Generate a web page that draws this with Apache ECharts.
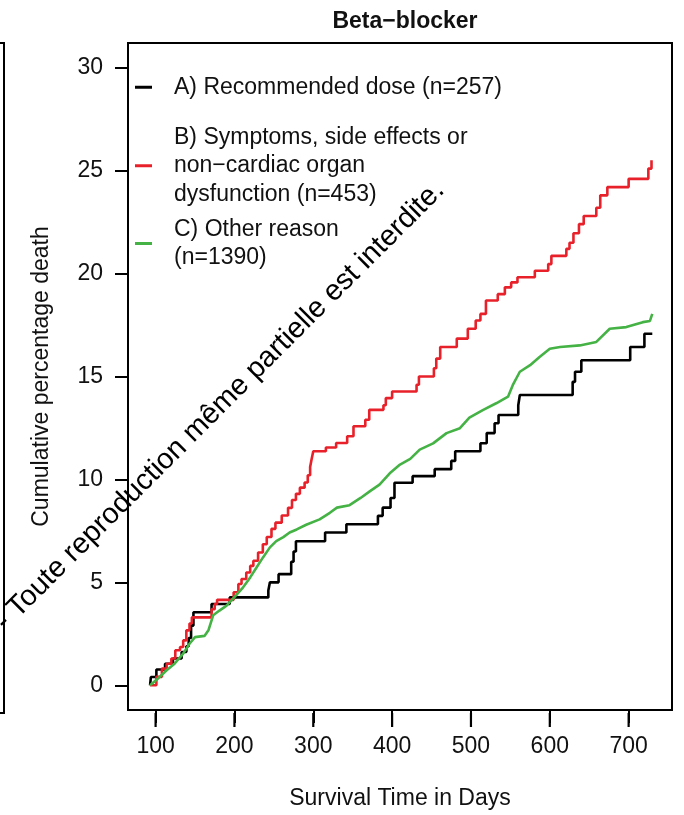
<!DOCTYPE html>
<html>
<head>
<meta charset="utf-8">
<script src="https://cdn.jsdelivr.net/npm/echarts@6/dist/echarts.min.js"></script>
<style>
  html, body { margin: 0; padding: 0; background: #fff; }
  #main { width: 684px; height: 815px; }
</style>
</head>
<body>
<div id="main"></div>
<script>
// data (days, cumulative % death)
var xTicks = [100, 200, 300, 400, 500, 600, 700];
var yTicks = [0, 5, 10, 15, 20, 25, 30];

var seriesNames = ['A', 'B', 'C'];
var legendTexts = [
    'A) Recommended dose (n=257)',
    'B) Symptoms, side effects or\nnon\u2212cardiac organ\ndysfunction (n=453)',
    'C) Other reason\n(n=1390)'
];

var blackDays = [93, 94, 101, 112, 122, 133, 139, 142, 145, 148, 171, 194, 243, 245, 256, 272, 275, 278, 315, 342, 382, 388, 398, 403, 426, 454, 475, 480, 512, 520, 530, 535, 560, 562, 629, 632, 640, 702, 720, 730];
var blackPct  = [0, 0.4, 0.77, 1.05, 1.3, 1.62, 1.9, 2.3, 2.9, 3.55, 3.95, 4.27, 4.6, 5.0, 5.4, 6.0, 6.5, 7.0, 7.42, 7.82, 8.23, 8.63, 9.1, 9.84, 10.16, 10.5, 10.9, 11.37, 11.76, 12.25, 12.73, 13.13, 13.6, 14.1, 14.74, 15.23, 15.79, 16.43, 17.08, 17.08];

var redDays = [93, 101, 108, 114, 120, 125, 131, 135, 139, 143, 146, 171, 175, 178, 199, 205, 209, 215, 220, 224, 230, 236, 241, 247, 252, 260, 268, 273, 278, 283, 289, 293, 296, 298, 300, 316, 329, 343, 351, 366, 371, 389, 392, 400, 431, 434, 453, 456, 461, 482, 496, 506, 512, 519, 534, 543, 551, 559, 581, 598, 602, 621, 625, 630, 637, 643, 659, 664, 673, 700, 725, 729];
var redPct  = [0, 0.41, 0.81, 1.05, 1.3, 1.7, 1.86, 2.18, 2.67, 3.0, 3.3, 3.7, 3.95, 4.15, 4.52, 4.92, 5.16, 5.48, 5.8, 6.05, 6.45, 6.85, 7.2, 7.6, 7.9, 8.25, 8.62, 9.0, 9.3, 9.6, 9.85, 10.2, 10.6, 11.0, 11.37, 11.55, 11.77, 12.1, 12.58, 12.9, 13.38, 13.6, 13.95, 14.27, 14.6, 15.0, 15.4, 15.87, 16.43, 16.84, 17.32, 17.72, 18.04, 18.69, 19.0, 19.33, 19.57, 19.82, 20.14, 20.46, 20.86, 21.2, 21.5, 21.96, 22.4, 22.8, 23.2, 23.8, 24.2, 24.6, 25.1, 25.5];

var greenDays = [93, 103, 114, 124, 135, 143, 150, 162, 167, 173, 181, 190, 200, 211, 220, 228, 236, 245, 253, 262, 270, 279, 291, 308, 321, 330, 346, 360, 372, 384, 397, 410, 423, 435, 452, 469, 486, 498, 515, 532, 547, 553, 562, 575, 587, 600, 613, 638, 659, 676, 697, 718, 727, 730];
var greenPct  = [0, 0.33, 0.73, 1.05, 1.54, 2.02, 2.34, 2.4, 2.67, 3.4, 3.63, 3.87, 4.28, 4.76, 5.24, 5.72, 6.2, 6.7, 7.0, 7.2, 7.42, 7.57, 7.8, 8.06, 8.38, 8.63, 8.75, 9.1, 9.43, 9.75, 10.3, 10.72, 11.0, 11.45, 11.75, 12.25, 12.49, 13.0, 13.37, 13.7, 14.02, 14.58, 15.23, 15.55, 15.95, 16.35, 16.43, 16.51, 16.68, 17.32, 17.4, 17.64, 17.7, 18.04];

var colors = ['#000000', '#e8202a', '#44b244'];

var xMin = 65, xMax = 755, yMin = -1.2, yMax = 31.2;
var gridBox = { left: 128, right: 12, top: 43, bottom: 102 };

function pairs(xs, ys) {
    var out = [];
    for (var i = 0; i < xs.length; i++) out.push([xs[i], ys[i]]);
    return out;
}

var font = '"Liberation Sans", Arial, Helvetica, sans-serif';

var myChart = echarts.init(document.getElementById('main'));

function oneLegend(i, top) {
    return {
        data: [seriesNames[i]],
        left: 135,
        top: top,
        padding: 0,
        orient: 'vertical',
        icon: 'rect',
        itemWidth: 17,
        itemHeight: 3,
        selectedMode: false,
        formatter: function () { return legendTexts[i]; },
        textStyle: {
            fontFamily: font,
            fontSize: 23,
            lineHeight: 28.5,
            color: '#111',
            padding: [0, 0, 0, 17]
        }
    };
}

// x ticks hang below the box; positioned along the same linear x range as the grid
var chartW = 684, chartH = 815;
var plotW = chartW - gridBox.left - gridBox.right;
var plotBottom = chartH - gridBox.bottom;
var tickMarks = xTicks.map(function (v) {
    var px = gridBox.left + (v - xMin) / (xMax - xMin) * plotW;
    return {
        type: 'rect',
        zlevel: 2,
        z: 100,
        silent: true,
        shape: { x: px - 1.1, y: plotBottom, width: 2.2, height: 14 },
        style: { fill: '#000' }
    };
});

var option = {
    backgroundColor: '#fff',
    animation: false,
    title: {
        text: 'Beta\u2212blocker',
        left: 400,
        textAlign: 'center',
        top: 5,
        textStyle: { fontFamily: font, fontSize: 23, fontWeight: 'bold', color: '#111' }
    },
    legend: [oneLegend(0, 73), oneLegend(1, 123), oneLegend(2, 215)],
    grid: {
        left: gridBox.left, right: gridBox.right, top: gridBox.top, bottom: gridBox.bottom,
        show: true,
        borderColor: '#000',
        borderWidth: 2,
        backgroundColor: 'transparent'
    },
    xAxis: {
        type: 'value',
        position: 'bottom',
        min: xMin,
        max: xMax,
        name: 'Survival Time in Days',
        nameLocation: 'middle',
        nameGap: 77,
        nameTextStyle: { fontFamily: font, fontSize: 23, color: '#111' },
        splitLine: { show: false },
        axisLine: { show: true, onZero: false, lineStyle: { color: '#000', width: 2 } },
        axisTick: { show: true, length: 13, lineStyle: { color: '#000', width: 2 }, customValues: xTicks },
        axisLabel: { fontFamily: font, fontSize: 23, color: '#111', margin: 25, customValues: xTicks }
    },
    yAxis: {
        type: 'value',
        position: 'left',
        min: yMin,
        max: yMax,
        name: 'Cumulative percentage death',
        nameLocation: 'middle',
        nameGap: 75,
        nameTextStyle: { fontFamily: font, fontSize: 23, color: '#111' },
        splitLine: { show: false },
        axisLine: { show: true, onZero: false, lineStyle: { color: '#000', width: 2 } },
        axisTick: { show: true, length: 13, lineStyle: { color: '#000', width: 2 }, customValues: yTicks },
        axisLabel: { fontFamily: font, fontSize: 23, color: '#111', margin: 25, customValues: yTicks }
    },
    series: [
        {
            name: 'A', type: 'line', step: 'end', symbol: 'none',
            data: pairs(blackDays, blackPct),
            lineStyle: { color: colors[0], width: 2.6 },
            itemStyle: { color: colors[0] }
        },
        {
            name: 'B', type: 'line', step: 'end', symbol: 'none',
            data: pairs(redDays, redPct),
            lineStyle: { color: colors[1], width: 2.6 },
            itemStyle: { color: colors[1] }
        },
        {
            name: 'C', type: 'line', symbol: 'none',
            data: pairs(greenDays, greenPct),
            lineStyle: { color: colors[2], width: 2.6 },
            itemStyle: { color: colors[2] }
        }
    ],
    graphic: [
        {
            // edge of the neighbouring panel
            type: 'polyline',
            shape: { points: [[0, 43], [4, 43], [4, 713], [0, 713]] },
            style: { stroke: '#000', lineWidth: 2, fill: null }
        },
        {
            type: 'text',
            x: 450, y: 196,
            rotation: 45 * Math.PI / 180,
            style: {
                text: 's - Toute reproduction m\u00eame partielle est interdite.',
                font: '29px ' + font,
                fill: '#000',
                align: 'right',
                verticalAlign: 'bottom'
            },
            z: 100
        }
    ].concat(tickMarks)
};

myChart.setOption(option);
</script>
</body>
</html>
